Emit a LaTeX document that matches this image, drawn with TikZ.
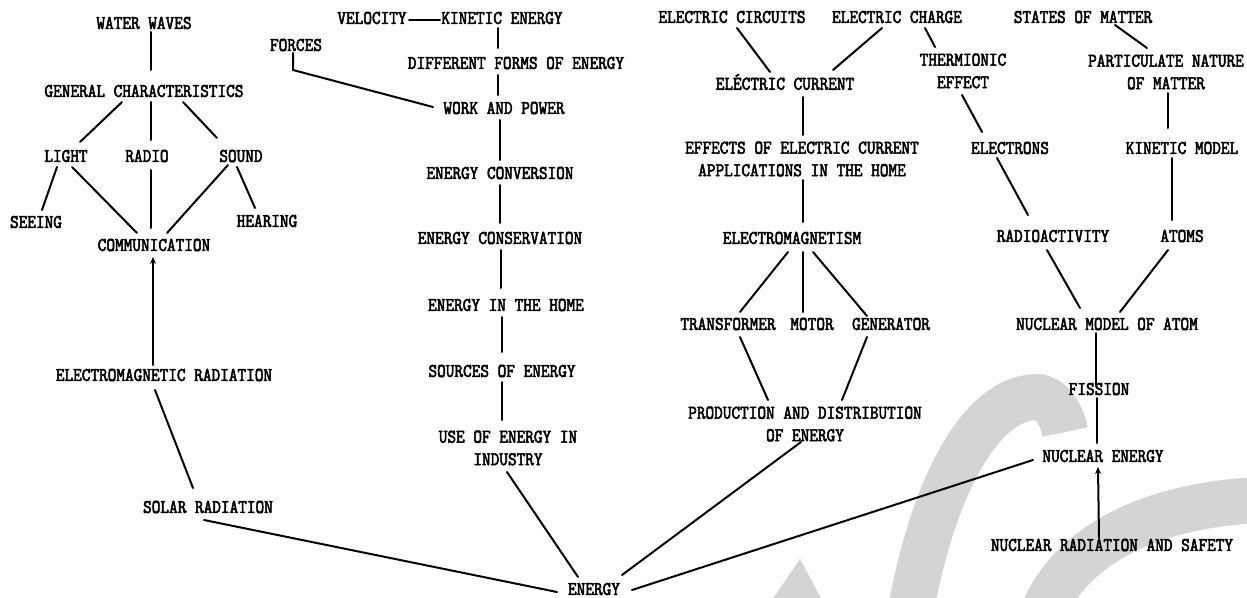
\documentclass[tikz,border=0pt]{standalone}
\usepackage{fontspec}
\newfontfamily\typefont[FakeStretch=0.845,FakeBold=2.6]{lmmono10-regular.otf}
\usetikzlibrary{arrows.meta}
\begin{document}
\begin{tikzpicture}[x=1pt,y=-1pt,
  lbl/.style={font=\typefont\fontsize{19.5}{22.5}\selectfont, inner sep=0pt, align=center, text=black},
  ln/.style={line width=2pt, line cap=round, draw=black},
  arr/.style={ln, -{Stealth[length=7pt,width=6pt]}},
  wm/.style={line width=46pt, draw=black!17}]
\useasboundingbox[fill=white] (0,0) rectangle (1247,597);
% watermark
\draw[wm] (910,615) .. controls (930,500) and (975,400) .. (1035,397) .. controls (1052,397) and (1062,415) .. (1065,432);
\draw[wm] (1042,615) .. controls (1070,545) and (1150,505) .. (1260,500);
\fill[black!17] (800,559) -- (772,600) -- (822,600) -- cycle;
% nodes
\node[lbl] (ww) at (144,23) {WATER WAVES};
\node[lbl] (gc) at (144,91) {GENERAL CHARACTERISTICS};
\node[lbl] (light) at (66,156) {LIGHT};
\node[lbl] (radio) at (147,156) {RADIO};
\node[lbl] (sound) at (241,156) {SOUND};
\node[lbl] (seeing) at (36,222) {SEEING};
\node[lbl] (hearing) at (267,221) {HEARING};
\node[lbl] (comm) at (154,245) {COMMUNICATION};
\node[lbl] (emr) at (164,375) {ELECTROMAGNETIC RADIATION};
\node[lbl] (solar) at (208,507) {SOLAR RADIATION};
\node[lbl] (forces) at (296,45) {FORCES};
\node[lbl] (velocity) at (372,18) {VELOCITY};
\node[lbl] (kinetic) at (502,18) {KINETIC ENERGY};
\node[lbl] (forms) at (516,63) {DIFFERENT FORMS OF ENERGY};
\node[lbl] (work) at (504,108) {WORK AND POWER};
\node[lbl] (conv) at (500,173) {ENERGY CONVERSION};
\node[lbl] (cons) at (500,238) {ENERGY CONSERVATION};
\node[lbl] (home) at (506,305) {ENERGY IN THE HOME};
\node[lbl] (sources) at (502,371) {SOURCES OF ENERGY};
\node[lbl] (use) at (508,448) {USE OF ENERGY IN\\INDUSTRY};
\node[lbl] (energy) at (594,589) {ENERGY};
\node[lbl] (circuits) at (732,17) {ELECTRIC CIRCUITS};
\node[lbl] (charge) at (897,17) {ELECTRIC CHARGE};
\node[lbl] (current) at (785,82) {ELÉCTRIC CURRENT};
\node[lbl] (effects) at (802,159) {EFFECTS OF ELECTRIC CURRENT\\APPLICATIONS IN THE HOME};
\node[lbl] (em) at (792,238) {ELECTROMAGNETISM};
\node[lbl] (transformer) at (728,324) {TRANSFORMER};
\node[lbl] (motor) at (812,324) {MOTOR};
\node[lbl] (generator) at (891,324) {GENERATOR};
\node[lbl] (prod) at (805,424) {PRODUCTION AND DISTRIBUTION\\OF ENERGY};
\node[lbl] (thermionic) at (963,71) {THERMIONIC\\EFFECT};
\node[lbl] (electrons) at (1010,148) {ELECTRONS};
\node[lbl] (states) at (1083,17) {STATES OF MATTER};
\node[lbl] (particulate) at (1166,72) {PARTICULATE NATURE\\OF MATTER};
\node[lbl] (kmodel) at (1182,148) {KINETIC MODEL};
\node[lbl] (radioact) at (1053,236) {RADIOACTIVITY};
\node[lbl] (atoms) at (1182,236) {ATOMS};
\node[lbl] (nma) at (1107,324) {NUCLEAR MODEL OF ATOM};
\node[lbl] (fission) at (1099,389) {FISSION};
\node[lbl] (nenergy) at (1103,456) {NUCLEAR ENERGY};
\node[lbl] (nrs) at (1112,545) {NUCLEAR RADIATION AND SAFETY};
% connectors
\draw[ln] ([shift={(7,9)}]ww.center) -- ([shift={(7,-21)}]gc.center);
\draw[ln] ([shift={(-22,11)}]gc.center) -- ([shift={(14,-14)}]light.center);
\draw[ln] ([shift={(7,11)}]gc.center) -- ([shift={(4,-16)}]radio.center);
\draw[ln] ([shift={(39,11)}]gc.center) -- ([shift={(-24,-18)}]sound.center);
\draw[ln] ([shift={(-9,11)}]light.center) -- ([shift={(6,-12)}]seeing.center);
\draw[ln] ([shift={(6,11)}]light.center) -- ([shift={(-17,-12)}]comm.center);
\draw[ln] ([shift={(4,14)}]radio.center) -- ([shift={(-3,-17)}]comm.center);
\draw[ln] ([shift={(-13,9)}]sound.center) -- ([shift={(13,-12)}]comm.center);
\draw[ln] ([shift={(-4,11)}]sound.center) -- ([shift={(-12,-13)}]hearing.center);
\draw[arr] ([shift={(-11,-10)}]emr.center) -- ([shift={(-1,12)}]comm.center);
\draw[ln] ([shift={(-9,15)}]emr.center) -- ([shift={(-15,-19)}]solar.center);
\draw[ln] ([shift={(-4,13)}]solar.center) -- ([shift={(-37,3)}]energy.center);
\draw[ln] ([shift={(-3,8)}]forces.center) -- ++(0,17) -- ([shift={(-71,-1)}]work.center);
\draw[ln] ([shift={(37,2)}]velocity.center) -- ([shift={(-62,2)}]kinetic.center);
\draw[ln] ([shift={(-4,10)}]kinetic.center) -- ([shift={(-18,-15)}]forms.center);
\draw[ln] ([shift={(-18,12)}]forms.center) -- ([shift={(-6,-13)}]work.center);
\draw[ln] ([shift={(-4,12)}]work.center) -- ([shift={(0,-13)}]conv.center);
\draw[ln] ([shift={(0,12)}]conv.center) -- ([shift={(0,-15)}]cons.center);
\draw[ln] ([shift={(1,12)}]cons.center) -- ([shift={(-5,-17)}]home.center);
\draw[ln] ([shift={(-4,12)}]home.center) -- ([shift={(0,-19)}]sources.center);
\draw[ln] ([shift={(0,11)}]sources.center) -- ([shift={(-6,-28)}]use.center);
\draw[ln] ([shift={(-1,24)}]use.center) -- ([shift={(-16,-12)}]energy.center);
\draw[ln] ([shift={(5,11)}]circuits.center) -- ([shift={(-15,-10)}]current.center);
\draw[ln] ([shift={(-15,11)}]charge.center) -- ([shift={(48,-12)}]current.center);
\draw[ln] ([shift={(28,11)}]charge.center) -- ([shift={(-28,-24)}]thermionic.center);
\draw[ln] ([shift={(18,15)}]current.center) -- ([shift={(1,-24)}]effects.center);
\draw[ln] ([shift={(1,21)}]effects.center) -- ([shift={(11,-16)}]em.center);
\draw[ln] ([shift={(-4,14)}]em.center) -- ([shift={(12,-12)}]transformer.center);
\draw[ln] ([shift={(11,14)}]em.center) -- ([shift={(-9,-12)}]motor.center);
\draw[ln] ([shift={(21,14)}]em.center) -- ([shift={(-24,-8)}]generator.center);
\draw[ln] ([shift={(12,13)}]transformer.center) -- ([shift={(-37,-24)}]prod.center);
\draw[ln] ([shift={(-24,13)}]generator.center) -- ([shift={(37,-24)}]prod.center);
\draw[ln] ([shift={(-4,18)}]prod.center) -- ([shift={(28,-14)}]energy.center);
\draw[ln] ([shift={(-1,24)}]thermionic.center) -- ([shift={(-28,-16)}]electrons.center);
\draw[ln] ([shift={(-13,10)}]electrons.center) -- ([shift={(-25,-21)}]radioact.center);
\draw[ln] ([shift={(32,8)}]states.center) -- ([shift={(-19,-24)}]particulate.center);
\draw[ln] ([shift={(2,21)}]particulate.center) -- ([shift={(-14,-20)}]kmodel.center);
\draw[ln] ([shift={(-10,10)}]kmodel.center) -- ([shift={(-10,-16)}]atoms.center);
\draw[ln] ([shift={(-6,14)}]radioact.center) -- ([shift={(-27,-16)}]nma.center);
\draw[ln] ([shift={(-14,14)}]atoms.center) -- ([shift={(13,-12)}]nma.center);
\draw[ln] ([shift={(-11,9)}]nma.center) -- ([shift={(-3,-4)}]fission.center);
\draw[ln] ([shift={(-2,9)}]fission.center) -- ([shift={(-6,-13)}]nenergy.center);
\draw[arr] ([shift={(-13,-7)}]nrs.center) -- ([shift={(-5,11)}]nenergy.center);
\draw[ln] ([shift={(-70,4)}]nenergy.center) -- ([shift={(38,1)}]energy.center);
\end{tikzpicture}
\end{document}
